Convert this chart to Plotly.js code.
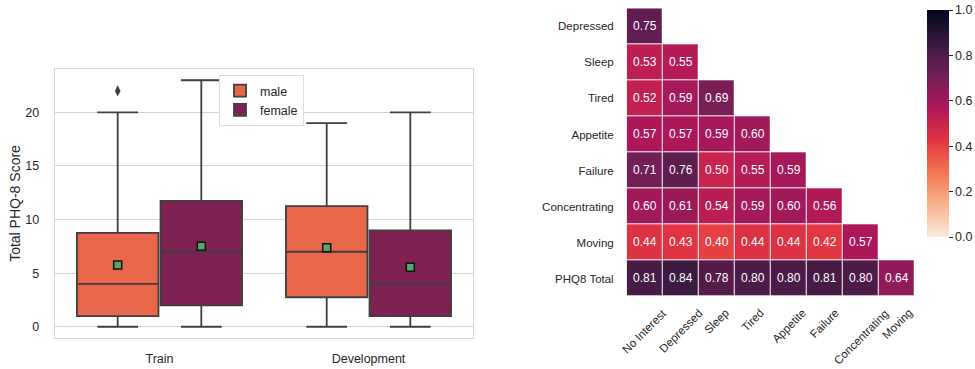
<!DOCTYPE html>
<html>
<head>
<meta charset="utf-8">
<script src="https://cdn.plot.ly/plotly-3.0.1.min.js"></script>
<style>
  html, body { margin: 0; padding: 0; background: #ffffff; }
  #chart { width: 975px; height: 369px; }
</style>
</head>
<body>
<div id="chart"></div>
<script>
// ---- Box plot: PHQ-8 totals by split and gender ----
const splits = ['Train', 'Development'];
const genders = ['male', 'female'];

const maleQ1 = [1, 2.75];
const maleMedian = [4, 7];
const maleQ3 = [8.75, 11.25];
const maleLowerFence = [0, 0];
const maleUpperFence = [20, 19];
const maleMean = [5.75, 7.37];
const maleOutliers = [[22], []];

const femaleQ1 = [2, 1];
const femaleMedian = [7, 4];
const femaleQ3 = [11.75, 9];
const femaleLowerFence = [0, 0];
const femaleUpperFence = [23, 20];
const femaleMean = [7.5, 5.54];
const femaleOutliers = [[], []];

// ---- Correlation heatmap (lower triangle) ----
const rowLabels = ['Depressed', 'Sleep', 'Tired', 'Appetite', 'Failure', 'Concentrating', 'Moving', 'PHQ8 Total'];
const colLabels = ['No Interest', 'Depressed', 'Sleep', 'Tired', 'Appetite', 'Failure', 'Concentrating', 'Moving'];
const corrDepressed = [0.75];
const corrSleep = [0.53, 0.55];
const corrTired = [0.52, 0.59, 0.69];
const corrAppetite = [0.57, 0.57, 0.59, 0.60];
const corrFailure = [0.71, 0.76, 0.50, 0.55, 0.59];
const corrConcentrating = [0.60, 0.61, 0.54, 0.59, 0.60, 0.56];
const corrMoving = [0.44, 0.43, 0.40, 0.44, 0.44, 0.42, 0.57];
const corrTotal = [0.81, 0.84, 0.78, 0.80, 0.80, 0.81, 0.80, 0.64];
const colorbarTicks = [0, 0.2, 0.4, 0.6, 0.8, 1.0];

// ---- styling ----
const FONT = '"Liberation Sans", Arial, "DejaVu Sans", sans-serif';
const TEXT = '#262626';
const EDGE = '#3f3f3f';
const hueColors = { male: '#e8664a', female: '#7f2153' };
const hueOffset = { male: -0.2, female: 0.2 };
const boxWidth = 0.39;

// reversed "rocket" colormap
const rocketR = [
  [0.000, '#faebdd'],
  [0.143, '#f6b48f'],
  [0.286, '#f37651'],
  [0.429, '#e13342'],
  [0.571, '#ad1759'],
  [0.714, '#701f57'],
  [0.857, '#35193e'],
  [1.000, '#03051a']
];

const stats = {
  male: { q1: maleQ1, median: maleMedian, q3: maleQ3, lo: maleLowerFence, hi: maleUpperFence, mean: maleMean, out: maleOutliers },
  female: { q1: femaleQ1, median: femaleMedian, q3: femaleQ3, lo: femaleLowerFence, hi: femaleUpperFence, mean: femaleMean, out: femaleOutliers }
};

const traces = [];

genders.forEach(g => {
  const s = stats[g];
  const pos = splits.map((_, i) => i + hueOffset[g]);
  traces.push({
    type: 'box',
    name: g,
    x: pos,
    q1: s.q1, median: s.median, q3: s.q3,
    lowerfence: s.lo, upperfence: s.hi,
    width: boxWidth,
    whiskerwidth: 0.5,
    fillcolor: hueColors[g],
    line: { color: EDGE, width: 1.8 },
    boxpoints: false,
    xaxis: 'x', yaxis: 'y',
    hoverinfo: 'skip'
  });
});

// outliers
genders.forEach(g => {
  const s = stats[g];
  const xs = [], ys = [];
  s.out.forEach((arr, i) => arr.forEach(v => { xs.push(i + hueOffset[g]); ys.push(v); }));
  if (xs.length) {
    traces.push({
      type: 'scatter', mode: 'markers', x: xs, y: ys, showlegend: false,
      marker: { symbol: 'diamond-tall', size: 8, color: EDGE },
      xaxis: 'x', yaxis: 'y', hoverinfo: 'skip'
    });
  }
});

// means
genders.forEach(g => {
  const s = stats[g];
  traces.push({
    type: 'scatter', mode: 'markers',
    x: splits.map((_, i) => i + hueOffset[g]), y: s.mean,
    showlegend: false,
    marker: { symbol: 'square', size: 8, color: '#55a868', line: { color: '#111111', width: 1.5 } },
    xaxis: 'x', yaxis: 'y', hoverinfo: 'skip'
  });
});

// heatmap matrix (upper triangle left empty)
const corrRows = [corrDepressed, corrSleep, corrTired, corrAppetite, corrFailure, corrConcentrating, corrMoving, corrTotal];
const z = corrRows.map(r => colLabels.map((_, j) => (j < r.length ? r[j] : null)));

traces.push({
  type: 'heatmap',
  x: colLabels, y: rowLabels, z: z,
  zmin: 0, zmax: 1,
  colorscale: rocketR,
  xgap: 1, ygap: 1,
  texttemplate: '%{z:.2f}',
  textfont: { family: FONT, size: 12, color: '#ffffff' },
  hoverongaps: false,
  xaxis: 'x2', yaxis: 'y2',
  colorbar: {
    x: 926.7 / 975, xanchor: 'left',
    y: (369 - 10) / 369, yanchor: 'top',
    lenmode: 'pixels', len: 227,
    thicknessmode: 'pixels', thickness: 22,
    outlinewidth: 0,
    tickvals: colorbarTicks,
    tickformat: '.1f',
    ticks: 'outside', ticklen: 4, tickwidth: 1, tickcolor: TEXT,
    tickfont: { family: FONT, size: 12.5, color: TEXT },
    xpad: 0, ypad: 0
  }
});

// rotated column labels, centred on each column like the heatmap's tick labels
const colAnnotations = colLabels.map(c => ({
  x: c, xref: 'x2',
  y: (369 - 304) / 369, yref: 'paper',
  text: c, showarrow: false,
  textangle: -45,
  xanchor: 'center', yanchor: 'top',
  font: { family: FONT, size: 11.5, color: TEXT }
}));

const layout = {
  width: 975, height: 369,
  margin: { l: 0, r: 0, t: 0, b: 0 },
  paper_bgcolor: '#ffffff',
  plot_bgcolor: '#ffffff',
  font: { family: FONT, color: TEXT },
  showlegend: true,
  boxmode: 'overlay',
  legend: {
    x: 219 / 975, xanchor: 'left',
    y: (369 - 75) / 369, yanchor: 'top',
    bgcolor: '#ffffff', bordercolor: '#dddddd', borderwidth: 1,
    font: { family: FONT, size: 12.5, color: TEXT },
    tracegroupgap: 2
  },
  xaxis: {
    domain: [55 / 975, 473 / 975],
    range: [-0.5, 1.5],
    tickvals: splits.map((_, i) => i),
    ticktext: splits,
    showgrid: false, zeroline: false,
    showline: true, mirror: true, linecolor: '#d5d5d5', linewidth: 1.25,
    ticks: '', ticklabelstandoff: 9,
    tickfont: { family: FONT, size: 12.5, color: TEXT },
    anchor: 'y', automargin: false
  },
  yaxis: {
    domain: [(369 - 338) / 369, (369 - 69) / 369],
    range: [-1.05, 24.05],
    tickvals: [0, 5, 10, 15, 20],
    showgrid: true, gridcolor: '#d5d5d5', gridwidth: 1,
    zeroline: false,
    showline: true, mirror: true, linecolor: '#d5d5d5', linewidth: 1.25,
    ticks: '', ticklabelstandoff: 12,
    tickfont: { family: FONT, size: 12.5, color: TEXT },
    title: { text: 'Total PHQ-8 Score', font: { family: FONT, size: 14, color: TEXT }, standoff: 1 },
    anchor: 'x', automargin: false
  },
  xaxis2: {
    domain: [626.7 / 975, 915.1 / 975],
    range: [-0.5, colLabels.length - 0.5],
    showgrid: false, zeroline: false, showline: false,
    showticklabels: false, ticks: '',
    anchor: 'y2', automargin: false
  },
  yaxis2: {
    domain: [(369 - 296.7) / 369, (369 - 8.3) / 369],
    range: [rowLabels.length - 0.5, -0.5],
    showgrid: false, zeroline: false, showline: false,
    ticks: '', ticklabelstandoff: 12,
    tickfont: { family: FONT, size: 11.5, color: TEXT },
    anchor: 'x2', automargin: false
  },
  annotations: colAnnotations
};

Plotly.newPlot('chart', traces, layout, { displayModeBar: false, staticPlot: true });
</script>
</body>
</html>
